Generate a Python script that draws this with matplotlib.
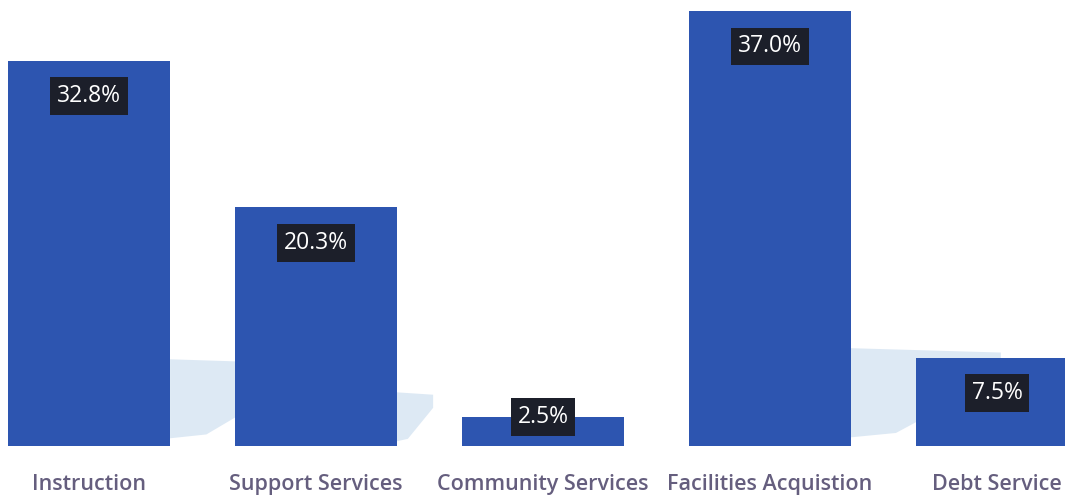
import matplotlib
matplotlib.use("Agg")
import matplotlib.pyplot as plt
from matplotlib.patches import Polygon

categories = ["Instruction", "Support Services", "Community Services",
              "Facilities Acquistion", "Debt Service"]
values = [32.8, 20.3, 2.5, 37.0, 7.5]
value_labels = ["32.8%", "20.3%", "2.5%", "37.0%", "7.5%"]

W, H = 1065, 495
fig = plt.figure(figsize=(W / 100, H / 100), dpi=100)
bottom_px = 446
ax = fig.add_axes([0, (H - bottom_px) / H, 1, bottom_px / H])

spacing_px = 227.0
first_px = 89.0
px_per_unit = 11.75
ax.set_xlim(-first_px / spacing_px, (W - first_px) / spacing_px)
ax.set_ylim(0, bottom_px / px_per_unit)

x = list(range(len(categories)))
bw = 0.714

# faint reflection shadows to the right of bars
for xi, v in zip(x, values):
    if v < 10:
        continue
    x0 = xi + bw / 2
    dx = 0.03 * v - 0.45
    poly = Polygon([(x0, 0.02 * v), (x0, 0.225 * v), (x0 + dx, 0.215 * v),
                    (x0 + dx, 0.16 * v), (x0 + 0.3 * dx, 0.03 * v)],
                   closed=True, facecolor="#cfe0f0", edgecolor="none",
                   alpha=0.7, zorder=1)
    ax.add_patch(poly)

ax.bar(x, values, width=bw, color="#2d55b0", edgecolor="none", zorder=2)

for xi, v, lab in zip(x, values, value_labels):
    y = v - 3.0 if v > 6 else v
    ax.text(xi, y, lab, ha="center", va="center", color="white",
            fontsize=16.5, family="Open Sans", zorder=4,
            bbox=dict(boxstyle="square,pad=0.3", facecolor="#1c1f2a",
                      edgecolor="none"))

ax.set_xticks(x)
ax.set_xticklabels(categories, family="Open Sans", fontsize=15.5,
                   fontweight="semibold", color="#655e7e")
ax.tick_params(axis="x", length=0, pad=20)
ax.set_yticks([])
for s in ax.spines.values():
    s.set_visible(False)

fig.savefig("out.png", dpi=100)
